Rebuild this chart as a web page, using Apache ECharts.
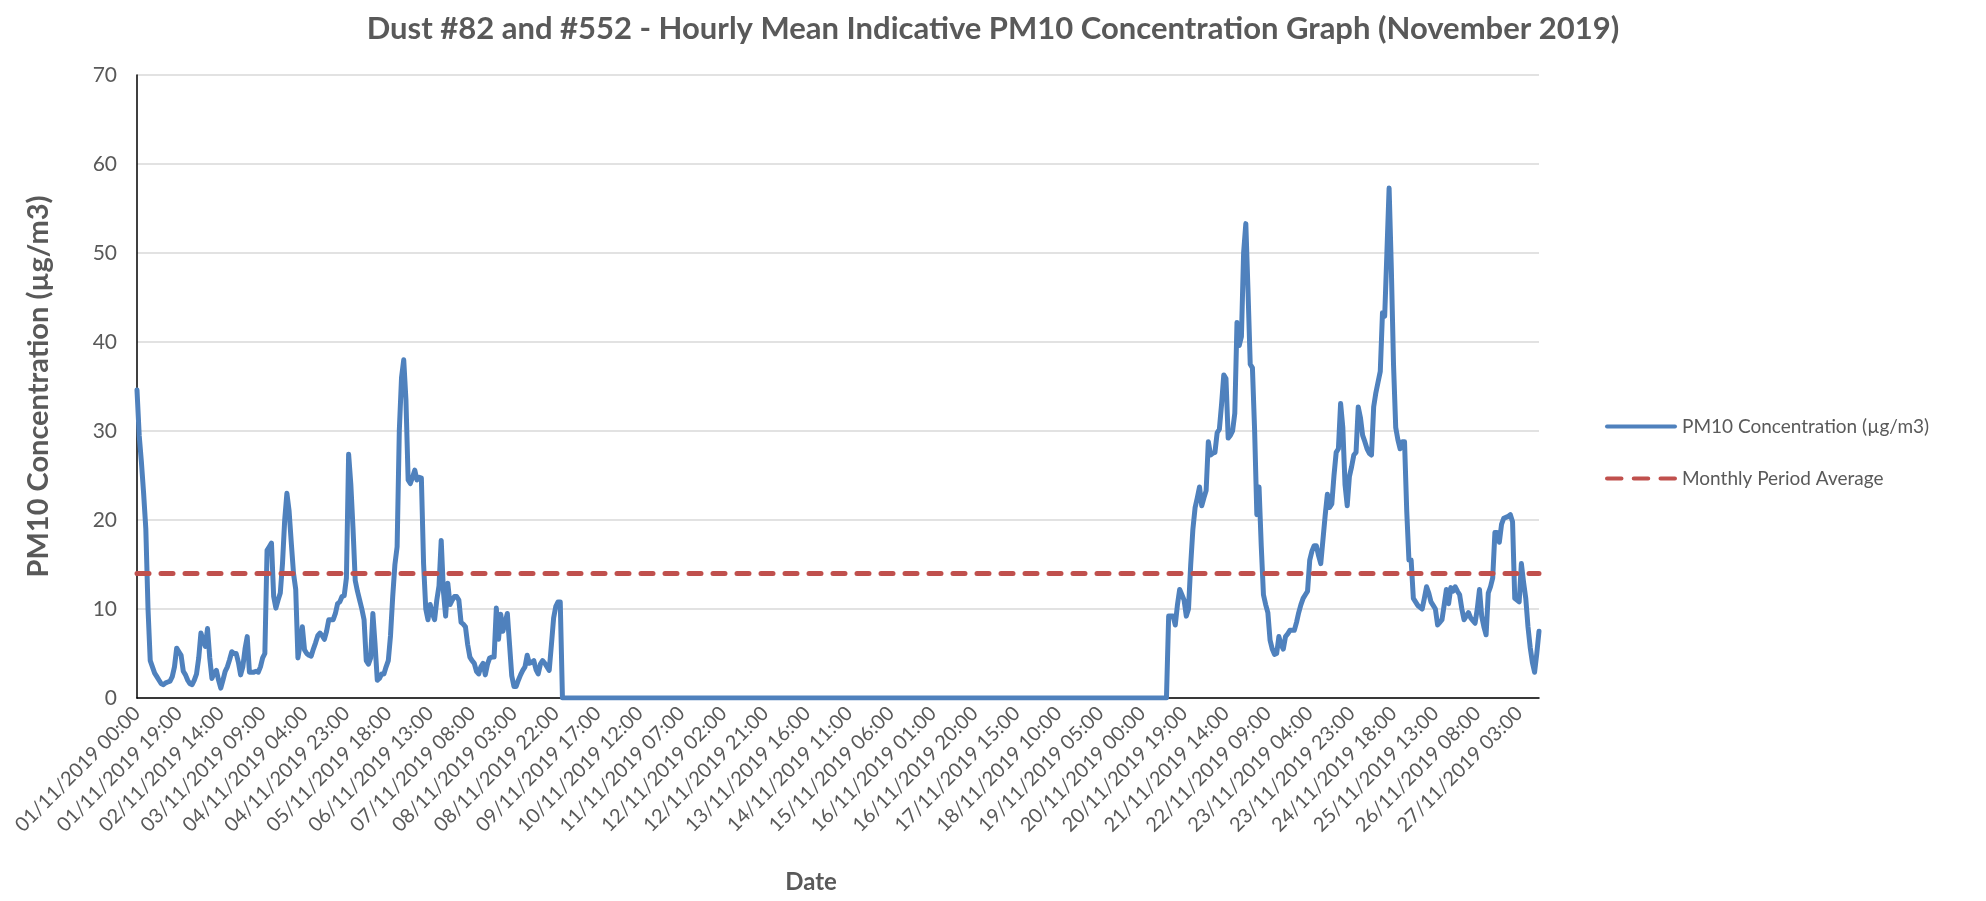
<!DOCTYPE html>
<html>
<head>
<meta charset="utf-8">
<script src="https://cdn.jsdelivr.net/npm/echarts@6/dist/echarts.min.js"></script>
<style>
html,body{margin:0;padding:0;background:#fff;}
#chart{width:1986px;height:901px;}
</style>
</head>
<body>
<div id="chart"></div>
<script>
// ---- Data (hourly values, µg/m3) ----
const chartTitle = 'Dust #82 and #552 - Hourly Mean Indicative PM10 Concentration Graph (November 2019)';
const seriesNames = ['PM10 Concentration (µg/m3)', 'Monthly Period Average'];
const yAxisTitle = 'PM10 Concentration (µg/m3)';
const xAxisTitle = 'Date';

// 01/11/2019 00:00 .. 09/11/2019 00:00
const pm10Part1 = [
  34.6, 29.5, 26.5, 23, 19, 10, 4.2, 3.5, 2.8, 2.4,
  2.0, 1.6, 1.5, 1.7, 1.8, 1.9, 2.4, 3.5, 5.6, 5.2,
  4.8, 3.0, 2.6, 2.0, 1.6, 1.5, 2.0, 2.7, 4.5, 7.3,
  6.5, 5.8, 7.8, 4.5, 2.2, 2.8, 3.1, 2.0, 1.1, 2.0,
  3.0, 3.5, 4.3, 5.2, 5.0, 5.0, 4.0, 2.6, 3.5, 5.5,
  6.9, 2.9, 2.9, 2.9, 3.0, 2.9, 3.5, 4.5, 5.0, 16.6,
  17.0, 17.4, 11.4, 10.1, 11.0, 11.8, 15.1, 20.0, 23.0, 21.0,
  17.4, 14.0, 12.2, 4.5, 6.0, 8.0, 5.4, 5.0, 4.8, 4.7,
  5.5, 6.2, 7.0, 7.3, 7.0, 6.6, 7.5, 8.8, 8.8, 8.8,
  9.5, 10.6, 10.8, 11.4, 11.5, 13.5, 27.4, 24.0, 19.0, 13.2,
  12.0, 11.0, 10.0, 8.8, 4.2, 3.8, 4.5, 9.5, 6.0, 2.0,
  2.2, 2.7, 2.7, 3.5, 4.2, 7.0, 11.4, 15.0, 17.0, 30.1,
  36.0, 38.0, 33.5, 24.5, 24.1, 24.8, 25.6, 24.5, 24.8, 24.7,
  15.1, 10.0, 8.8, 10.5, 9.5, 8.8, 11.0, 12.6, 17.7, 12.0,
  9.2, 12.9, 10.5, 11.0, 11.4, 11.4, 11.0, 8.5, 8.3, 8.0,
  6.0, 4.6, 4.2, 3.9, 3.0, 2.7, 3.5, 3.9, 2.6, 3.8,
  4.5, 4.6, 4.6, 10.1, 6.6, 9.4, 7.5, 8.5, 9.5, 6.0,
  2.5, 1.3, 1.3, 2.0, 2.6, 3.1, 3.5, 4.8, 3.9, 4.0,
  4.2, 3.2, 2.7, 3.8, 4.2, 3.9, 3.5, 3.1, 6.0, 9.0,
  10.3, 10.8, 10.8
];

// period shown at 0 in the reference (09/11 .. 20/11)
const pm10Gap = [
  0,0,0,0,0, 0,0,0,0,0, 0,0,0,0,0, 0,0,0,0,0, 0,0,0,0,0,
  0,0,0,0,0, 0,0,0,0,0, 0,0,0,0,0, 0,0,0,0,0, 0,0,0,0,0,
  0,0,0,0,0, 0,0,0,0,0, 0,0,0,0,0, 0,0,0,0,0, 0,0,0,0,0,
  0,0,0,0,0, 0,0,0,0,0, 0,0,0,0,0, 0,0,0,0,0, 0,0,0,0,0,
  0,0,0,0,0, 0,0,0,0,0, 0,0,0,0,0, 0,0,0,0,0, 0,0,0,0,0,
  0,0,0,0,0, 0,0,0,0,0, 0,0,0,0,0, 0,0,0,0,0, 0,0,0,0,0,
  0,0,0,0,0, 0,0,0,0,0, 0,0,0,0,0, 0,0,0,0,0, 0,0,0,0,0,
  0,0,0,0,0, 0,0,0,0,0, 0,0,0,0,0, 0,0,0,0,0, 0,0,0,0,0,
  0,0,0,0,0, 0,0,0,0,0, 0,0,0,0,0, 0,0,0,0,0, 0,0,0,0,0,
  0,0,0,0,0, 0,0,0,0,0, 0,0,0,0,0, 0,0,0,0,0, 0,0,0,0,0,
  0,0,0,0,0, 0,0,0,0,0, 0,0,0,0,0, 0,0,0,0,0, 0,0,0,0,0
];

// 20/11/2019 12:00 .. 27/11/2019 12:00
const pm10Part2 = [
  9.2, 9.2, 9.2, 8.2, 10.5, 12.2, 11.6, 11.0, 9.2, 10.0,
  15.0, 19.0, 21.4, 22.5, 23.7, 21.6, 22.5, 23.3, 28.8, 27.3,
  27.5, 27.6, 29.8, 30.2, 33.0, 36.3, 35.9, 29.2, 29.5, 30.0,
  32.0, 42.2, 39.6, 40.6, 50.0, 53.3, 45.7, 37.5, 37.1, 30.0,
  20.6, 23.7, 17.1, 11.6, 10.5, 9.6, 6.5, 5.5, 4.9, 5.0,
  6.9, 6.0, 5.5, 6.9, 7.2, 7.6, 7.6, 7.6, 8.5, 9.6,
  10.5, 11.2, 11.6, 12.0, 15.5, 16.5, 17.1, 17.1, 16.0, 15.1,
  17.8, 20.5, 22.9, 21.4, 21.8, 25.0, 27.6, 28.0, 33.1, 30.4,
  24.0, 21.6, 24.9, 26.0, 27.3, 27.6, 32.7, 31.5, 29.5, 28.8,
  28.0, 27.5, 27.3, 32.7, 34.3, 35.5, 36.7, 43.3, 42.9, 50.0,
  57.3, 48.4, 37.5, 30.4, 29.0, 28.0, 28.8, 28.8, 21.0, 15.5,
  15.5, 11.2, 10.8, 10.4, 10.2, 10.0, 11.2, 12.5, 11.8, 10.8,
  10.4, 10.0, 8.2, 8.5, 8.8, 10.5, 12.2, 10.6, 12.4, 12.0,
  12.5, 12.0, 11.6, 10.0, 8.8, 9.2, 9.6, 9.0, 8.7, 8.4,
  10.0, 12.2, 9.2, 8.0, 7.1, 11.8, 12.5, 13.5, 18.6, 18.6,
  17.5, 19.5, 20.2, 20.3, 20.4, 20.6, 19.8, 11.2, 11.0, 10.8,
  15.1, 13.0, 11.2, 8.0, 5.7, 4.0, 2.9, 5.0, 7.5
];

const monthlyAverage = 14.0;
const yTicks = { min: 0, max: 70, interval: 10 };
const labelEvery = 19; // a date label every 19 hours

const pm10 = pm10Part1.concat(pm10Gap, pm10Part2);

// hourly category labels starting 01/11/2019 00:00
function pad(n) { return (n < 10 ? '0' : '') + n; }
const categories = pm10.map(function (v, i) {
  const d = new Date(Date.UTC(2019, 10, 1, 0) + i * 3600000);
  return pad(d.getUTCDate()) + '/' + pad(d.getUTCMonth() + 1) + '/' + d.getUTCFullYear() + ' ' + pad(d.getUTCHours()) + ':00';
});
const averageLine = categories.map(function () { return monthlyAverage; });

const FONT = 'Lato, "Liberation Sans", sans-serif';
const BLUE = '#4f81bd';
const RED = '#c0504d';
// legend glyphs: a solid bar and three rounded dashes
const solidIcon = 'path://M2,0 H70 A2,2 0 0 1 70,4 H2 A2,2 0 0 1 2,0 Z';
const dashIcon = 'path://M2,0 H16 A2,2 0 0 1 16,4 H2 A2,2 0 0 1 2,0 Z M28,0 H42 A2,2 0 0 1 42,4 H28 A2,2 0 0 1 28,0 Z M54,0 H68 A2,2 0 0 1 68,4 H54 A2,2 0 0 1 54,0 Z';

const chart = echarts.init(document.getElementById('chart'));
chart.setOption({
  backgroundColor: '#ffffff',
  animation: false,
  title: {
    text: chartTitle, left: 'center', top: 8,
    textStyle: { fontFamily: FONT, fontWeight: 'bold', fontSize: 31, color: '#595959' }
  },
  legend: {
    orient: 'vertical', left: 1600, top: 412, itemWidth: 72, itemHeight: 14, itemGap: 33,
    textStyle: { fontFamily: FONT, fontSize: 19, color: '#595959' },
    data: [
      { name: seriesNames[0], icon: solidIcon, itemStyle: { color: BLUE } },
      { name: seriesNames[1], icon: dashIcon, itemStyle: { color: RED } }
    ]
  },
  grid: { left: 137, right: 447, top: 75, bottom: 203 },
  xAxis: {
    type: 'category', data: categories, boundaryGap: false,
    name: xAxisTitle, nameLocation: 'middle', nameGap: 172,
    nameTextStyle: { fontFamily: FONT, fontWeight: 'bold', fontSize: 24, color: '#595959', padding: [0, 54, 0, 0] },
    axisLine: { lineStyle: { color: '#000000', width: 1.5 } },
    axisTick: { show: false },
    axisLabel: { interval: labelEvery - 1, rotate: 45, color: '#595959', fontFamily: FONT, fontSize: 20, margin: 12 },
    splitLine: { show: false }
  },
  yAxis: {
    type: 'value', min: yTicks.min, max: yTicks.max, interval: yTicks.interval,
    name: yAxisTitle, nameLocation: 'middle', nameGap: 84,
    nameTextStyle: { fontFamily: FONT, fontWeight: 'bold', fontSize: 29, color: '#595959' },
    axisLine: { show: true, lineStyle: { color: '#000000', width: 1.5 } },
    axisTick: { show: false },
    axisLabel: { color: '#595959', fontFamily: FONT, fontSize: 21, margin: 20 },
    splitLine: { lineStyle: { color: '#d9d9d9', width: 1.5 } }
  },
  series: [
    {
      name: seriesNames[0], type: 'line', data: pm10, symbol: 'none', z: 3,
      lineStyle: { color: BLUE, width: 5, join: 'round', cap: 'round' },
      itemStyle: { color: BLUE }
    },
    {
      name: seriesNames[1], type: 'line', data: averageLine, symbol: 'none', z: 4,
      lineStyle: { color: RED, width: 5, type: [12, 12], cap: 'round' },
      itemStyle: { color: RED }
    }
  ]
});
</script>
</body>
</html>
